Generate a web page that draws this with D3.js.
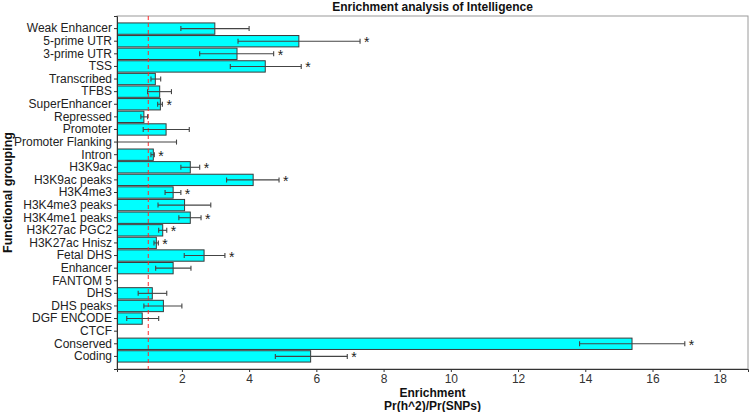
<!DOCTYPE html>
<html><head><meta charset="utf-8">
<script src="https://cdn.jsdelivr.net/npm/d3@7"></script>
<style>body{margin:0;background:#fff}svg{display:block;font-family:"Liberation Sans",Arial,sans-serif}</style>
</head><body>
<svg id="c" width="750" height="412"></svg>
<script>
const categories = ["Weak Enhancer","5-prime UTR","3-prime UTR","TSS","Transcribed","TFBS","SuperEnhancer","Repressed","Promoter","Promoter Flanking","Intron","H3K9ac","H3K9ac peaks","H3K4me3","H3K4me3 peaks ","H3K4me1 peaks","H3K27ac PGC2","H3K27ac Hnisz","Fetal DHS","Enhancer","FANTOM 5","DHS","DHS peaks","DGF ENCODE","CTCF","Conserved","Coding"];
const enrichment = [2.98,5.48,3.64,4.48,1.21,1.34,1.36,0.87,1.53,-0.4,1.15,2.25,4.12,1.74,2.08,2.25,1.43,1.24,2.66,1.74,-3.0,1.12,1.45,0.82,-2.5,15.39,5.83];
const errLow = [1.97,3.67,2.53,3.44,1.08,0.98,1.28,0.78,0.85,-2.6,1.08,1.97,3.33,1.50,1.29,1.91,1.31,1.17,2.07,1.22,-6.0,0.70,0.87,0.36,-5.0,13.83,4.78];
const errHigh = [4.00,7.30,4.73,5.55,1.37,1.69,1.42,0.98,2.22,1.84,1.18,2.53,4.89,1.97,2.86,2.57,1.55,1.30,3.28,2.27,-0.5,1.55,2.00,1.31,-0.5,16.96,6.92];
const significant = [0,1,1,1,0,0,1,0,0,0,1,1,1,1,0,1,1,1,1,0,0,0,0,0,0,1,1];
const xTicks = [2,4,6,8,10,12,14,16,18];

const svg = d3.select("#c");
const L = 117, R = 748, T = 16, B = 369;
const x = d3.scaleLinear().domain([0.07, 18.84]).range([L, R]);
const y = d3.scaleBand().domain(categories).range([T, B]).paddingInner(0.1).paddingOuter(0.55);

svg.append("defs").append("clipPath").attr("id","cp")
  .append("rect").attr("x",L).attr("y",T).attr("width",R-L).attr("height",B-T);

// panel border
svg.append("rect").attr("x",L).attr("y",T).attr("width",R-L).attr("height",B-T)
  .attr("fill","none").attr("stroke","#9a9a9a").attr("stroke-width",1);

const g = svg.append("g").attr("clip-path","url(#cp)");
const data = categories.map((c,i)=>({c, v:enrichment[i], lo:errLow[i], hi:errHigh[i], s:significant[i]}));

g.selectAll("rect.bar").data(data.filter(d=>d.v>0)).join("rect").attr("class","bar")
  .attr("x", x(0)).attr("y", d=>y(d.c))
  .attr("width", d=>x(d.v)-x(0)).attr("height", y.bandwidth())
  .attr("fill","#00ffff").attr("stroke","#3a3a3a").attr("stroke-width",1);

// reference line
g.append("line").attr("x1",x(1)).attr("x2",x(1)).attr("y1",T).attr("y2",B)
  .attr("stroke","#ff2a2a").attr("stroke-width",1).attr("stroke-dasharray","4,3");

// error bars
const eb = g.selectAll("g.eb").data(data).join("g").attr("class","eb")
  .attr("transform", d=>`translate(0,${y(d.c)+y.bandwidth()/2})`);
eb.append("line").attr("x1",d=>x(d.lo)).attr("x2",d=>x(d.hi)).attr("y1",0).attr("y2",0)
  .attr("stroke","#444").attr("stroke-width",1.1);
eb.append("line").attr("x1",d=>x(d.lo)).attr("x2",d=>x(d.lo)).attr("y1",-2.5).attr("y2",2.5)
  .attr("stroke","#444").attr("stroke-width",1.1);
eb.append("line").attr("x1",d=>x(d.hi)).attr("x2",d=>x(d.hi)).attr("y1",-2.5).attr("y2",2.5)
  .attr("stroke","#444").attr("stroke-width",1.1);

// stars
svg.selectAll("text.star").data(data.filter(d=>d.s)).join("text").attr("class","star")
  .attr("x", d=>x(d.hi)+4).attr("y", d=>y(d.c)+y.bandwidth()/2+6)
  .attr("font-size",14).attr("fill","#222").text("*");

// axes
const xa = svg.append("g").attr("transform",`translate(0,${B})`)
  .call(d3.axisBottom(x).tickValues(xTicks).tickSize(3).tickPadding(2).tickFormat(d3.format("d")));
xa.select(".domain").attr("stroke","#333");
xa.selectAll(".tick line").attr("stroke","#333");
xa.selectAll(".tick text").attr("font-size",12).attr("fill","#333").attr("font-family","Liberation Sans, Arial, sans-serif");

const ya = svg.append("g").attr("transform",`translate(${L},0)`)
  .call(d3.axisLeft(y).tickSize(3).tickPadding(2));
ya.select(".domain").attr("stroke","#333");
ya.selectAll(".tick line").attr("stroke","#333");
ya.selectAll(".tick text").attr("font-size",12).attr("fill","#222").attr("font-family","Liberation Sans, Arial, sans-serif");

// titles
svg.append("text").attr("x",(L+R)/2).attr("y",11).attr("text-anchor","middle")
  .attr("font-size",12).attr("font-weight","bold").attr("fill","#111").text("Enrichment analysis of Intelligence");
svg.append("text").attr("x",(L+R)/2).attr("y",397).attr("text-anchor","middle")
  .attr("font-size",12).attr("font-weight","bold").attr("fill","#111").text("Enrichment");
svg.append("text").attr("x",(L+R)/2).attr("y",410).attr("text-anchor","middle")
  .attr("font-size",12).attr("font-weight","bold").attr("fill","#111").text("Pr(h^2)/Pr(SNPs)");
svg.append("text").attr("transform",`translate(12,${(T+B)/2}) rotate(-90)`).attr("text-anchor","middle")
  .attr("font-size",12.5).attr("font-weight","bold").attr("fill","#111").text("Functional grouping");
</script>
</body></html>
